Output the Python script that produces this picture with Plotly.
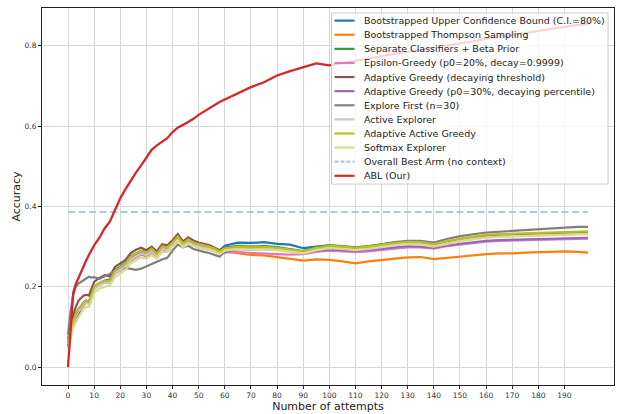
import plotly.graph_objects as go

# ---------------- data ----------------
attempts = [0, 1, 2, 3, 4, 5, 6, 7, 8, 9, 10,
            12, 14, 16, 18, 20, 22, 24, 26, 28, 30, 32, 34, 36, 38, 40,
            42, 44, 46, 48, 50, 52, 54, 56, 58, 60,
            65, 70, 75, 80, 85, 90, 95, 100, 105, 110, 115, 120, 125, 130,
            135, 140, 145, 150, 155, 160, 165, 170, 175, 180, 185, 190, 195, 199]

ucb = [0.05, 0.08, 0.105, 0.12, 0.128, 0.14, 0.155, 0.162, 0.16, 0.178, 0.198,
       0.208, 0.215, 0.218, 0.242, 0.25, 0.26, 0.276, 0.284, 0.29, 0.286, 0.296, 0.283, 0.3, 0.298, 0.31,
       0.324, 0.308, 0.318, 0.31, 0.306, 0.303, 0.3, 0.296, 0.29, 0.302,
       0.31, 0.309, 0.311, 0.307, 0.305, 0.296, 0.3, 0.303, 0.3, 0.297, 0.299, 0.304, 0.307, 0.31,
       0.309, 0.305, 0.312, 0.317, 0.321, 0.324, 0.326, 0.327, 0.329, 0.33, 0.331, 0.332, 0.333, 0.333]

thompson = [0.055, 0.085, 0.11, 0.125, 0.14, 0.145, 0.155, 0.16, 0.158, 0.175, 0.195,
            0.205, 0.21, 0.212, 0.235, 0.243, 0.253, 0.27, 0.278, 0.285, 0.28, 0.29, 0.278, 0.295, 0.293, 0.305,
            0.32, 0.303, 0.312, 0.305, 0.3, 0.297, 0.295, 0.29, 0.284, 0.288,
            0.283, 0.279, 0.278, 0.274, 0.27, 0.265, 0.268, 0.267, 0.263, 0.258, 0.263, 0.267, 0.27, 0.273,
            0.274, 0.269, 0.272, 0.276, 0.279, 0.281, 0.283, 0.283, 0.285, 0.286, 0.288, 0.288, 0.287, 0.285]

separate = [0.055, 0.088, 0.112, 0.128, 0.142, 0.148, 0.158, 0.163, 0.16, 0.178, 0.198,
            0.208, 0.214, 0.216, 0.238, 0.247, 0.257, 0.273, 0.282, 0.289, 0.284, 0.294, 0.281, 0.299, 0.297, 0.309,
            0.324, 0.307, 0.317, 0.309, 0.305, 0.302, 0.299, 0.294, 0.287, 0.297,
            0.302, 0.3, 0.301, 0.299, 0.294, 0.289, 0.298, 0.303, 0.301, 0.298, 0.301, 0.306, 0.31, 0.311,
            0.31, 0.305, 0.312, 0.318, 0.323, 0.327, 0.329, 0.33, 0.332, 0.333, 0.334, 0.335, 0.336, 0.336]

epsilon = [0.06, 0.09, 0.112, 0.128, 0.14, 0.148, 0.158, 0.162, 0.16, 0.176, 0.196,
           0.205, 0.21, 0.21, 0.233, 0.24, 0.25, 0.265, 0.272, 0.28, 0.276, 0.285, 0.274, 0.29, 0.289, 0.3,
           0.315, 0.299, 0.308, 0.302, 0.298, 0.295, 0.293, 0.288, 0.282, 0.285,
           0.287, 0.284, 0.283, 0.282, 0.28, 0.281, 0.287, 0.29, 0.288, 0.286, 0.288, 0.292, 0.295, 0.298,
           0.298, 0.295, 0.301, 0.305, 0.309, 0.312, 0.314, 0.315, 0.316, 0.317, 0.318, 0.319, 0.32, 0.32]

adaptive_thr = [0.07, 0.105, 0.13, 0.15, 0.165, 0.172, 0.178, 0.18, 0.178, 0.195, 0.212,
                0.222, 0.229, 0.226, 0.25, 0.258, 0.267, 0.284, 0.292, 0.297, 0.291, 0.3, 0.288, 0.306, 0.303, 0.316,
                0.331, 0.313, 0.323, 0.315, 0.31, 0.307, 0.304, 0.298, 0.291, 0.297,
                0.3, 0.297, 0.298, 0.296, 0.291, 0.287, 0.296, 0.3, 0.298, 0.295, 0.298, 0.303, 0.307, 0.31,
                0.309, 0.304, 0.311, 0.317, 0.321, 0.325, 0.327, 0.328, 0.33, 0.331, 0.332, 0.333, 0.334, 0.334]

adaptive_pct = [0.062, 0.094, 0.117, 0.132, 0.145, 0.152, 0.162, 0.166, 0.164, 0.18, 0.2,
                0.209, 0.214, 0.214, 0.237, 0.245, 0.255, 0.27, 0.278, 0.285, 0.281, 0.29, 0.279, 0.296, 0.294, 0.305,
                0.32, 0.304, 0.313, 0.306, 0.302, 0.299, 0.297, 0.292, 0.286, 0.293,
                0.297, 0.295, 0.295, 0.293, 0.288, 0.284, 0.29, 0.293, 0.291, 0.289, 0.291, 0.295, 0.298, 0.301,
                0.3, 0.297, 0.303, 0.307, 0.311, 0.314, 0.316, 0.317, 0.318, 0.319, 0.32, 0.321, 0.322, 0.322]

explore_first = [0.08, 0.14, 0.18, 0.2, 0.208, 0.212, 0.218, 0.222, 0.225, 0.223, 0.224,
                 0.22, 0.225, 0.232, 0.24, 0.245, 0.247, 0.244, 0.242, 0.245, 0.25, 0.255, 0.262, 0.268, 0.272, 0.29,
                 0.305, 0.298, 0.302, 0.294, 0.29, 0.287, 0.284, 0.28, 0.275, 0.287,
                 0.294, 0.293, 0.294, 0.293, 0.289, 0.286, 0.294, 0.299, 0.298, 0.296, 0.3, 0.306, 0.311, 0.314,
                 0.314, 0.31, 0.319, 0.326, 0.33, 0.335, 0.337, 0.339, 0.342, 0.343, 0.345, 0.347, 0.349, 0.349]

active_explorer = [0.058, 0.088, 0.11, 0.126, 0.14, 0.146, 0.156, 0.161, 0.158, 0.175, 0.194,
                   0.204, 0.21, 0.211, 0.234, 0.242, 0.252, 0.268, 0.276, 0.283, 0.279, 0.288, 0.277, 0.294, 0.292, 0.304,
                   0.318, 0.302, 0.311, 0.304, 0.3, 0.297, 0.295, 0.29, 0.284, 0.292,
                   0.296, 0.294, 0.295, 0.293, 0.289, 0.285, 0.293, 0.298, 0.296, 0.293, 0.296, 0.301, 0.305, 0.308,
                   0.307, 0.302, 0.309, 0.315, 0.319, 0.323, 0.325, 0.326, 0.328, 0.329, 0.33, 0.331, 0.332, 0.332]

adaptive_active = [0.06, 0.09, 0.115, 0.13, 0.145, 0.15, 0.16, 0.165, 0.162, 0.18, 0.2,
                   0.21, 0.215, 0.215, 0.24, 0.248, 0.258, 0.275, 0.283, 0.29, 0.285, 0.295, 0.282, 0.3, 0.298, 0.31,
                   0.325, 0.308, 0.318, 0.31, 0.306, 0.303, 0.3, 0.295, 0.288, 0.296,
                   0.3, 0.298, 0.299, 0.297, 0.292, 0.288, 0.297, 0.302, 0.3, 0.297, 0.3, 0.305, 0.309, 0.312,
                   0.311, 0.306, 0.314, 0.32, 0.325, 0.329, 0.331, 0.332, 0.334, 0.335, 0.336, 0.337, 0.338, 0.338]

softmax = [0.045, 0.075, 0.098, 0.112, 0.125, 0.135, 0.145, 0.15, 0.15, 0.165, 0.185,
           0.195, 0.2, 0.203, 0.225, 0.232, 0.243, 0.258, 0.266, 0.273, 0.27, 0.279, 0.27, 0.287, 0.286, 0.298,
           0.314, 0.298, 0.307, 0.301, 0.297, 0.294, 0.292, 0.287, 0.281, 0.29,
           0.294, 0.292, 0.293, 0.291, 0.287, 0.283, 0.291, 0.296, 0.294, 0.291, 0.294, 0.299, 0.303, 0.306,
           0.305, 0.3, 0.307, 0.313, 0.318, 0.322, 0.324, 0.325, 0.327, 0.328, 0.329, 0.33, 0.331, 0.331]

abl = [0.0, 0.1, 0.185, 0.207, 0.222, 0.238, 0.254, 0.266, 0.279, 0.292, 0.303,
       0.322, 0.345, 0.362, 0.39, 0.42, 0.443, 0.465, 0.484, 0.502, 0.522, 0.541, 0.552, 0.561, 0.57, 0.585,
       0.596, 0.603, 0.61, 0.618, 0.628, 0.636, 0.645, 0.653, 0.66, 0.666,
       0.681, 0.697, 0.709, 0.726, 0.737, 0.747, 0.756, 0.751, 0.757, 0.763, 0.769, 0.774, 0.78, 0.785,
       0.79, 0.795, 0.8, 0.806, 0.811, 0.817, 0.822, 0.828, 0.833, 0.838, 0.843, 0.848, 0.852, 0.854]

best_arm_x = [0, 199]
best_arm_value = 0.386

x_ticks = list(range(0, 200, 10))
y_ticks = [0.0, 0.2, 0.4, 0.6, 0.8]

series = [
    ("Bootstrapped Upper Confidence Bound (C.I.=80%)", ucb, "#1f77b4"),
    ("Bootstrapped Thompson Sampling", thompson, "#ff7f0e"),
    ("Separate Classifiers + Beta Prior", separate, "#2ca02c"),
    ("Epsilon-Greedy (p0=20%, decay=0.9999)", epsilon, "#e377c2"),
    ("Adaptive Greedy (decaying threshold)", adaptive_thr, "#8c564b"),
    ("Adaptive Greedy (p0=30%, decaying percentile)", adaptive_pct, "#9467bd"),
    ("Explore First (n=30)", explore_first, "#7f7f7f"),
    ("Active Explorer", active_explorer, "#c7c7c7"),
    ("Adaptive Active Greedy", adaptive_active, "#bcbd22"),
    ("Softmax Explorer", softmax, "#dbdb8d"),
]

FONT = "DejaVu Sans"

fig = go.Figure()
for name, vals, col in series:
    fig.add_trace(go.Scatter(x=attempts, y=vals, mode="lines", name=name,
                             line=dict(color=col, width=2.2), showlegend=False))
fig.add_trace(go.Scatter(x=best_arm_x, y=[best_arm_value] * len(best_arm_x), mode="lines",
                         name="Overall Best Arm (no context)",
                         line=dict(color="#aec7e8", width=2, dash="7px,3.5px"), showlegend=False))
fig.add_trace(go.Scatter(x=attempts, y=abl, mode="lines", name="ABL (Our)",
                         line=dict(color="#d62728", width=2.3), showlegend=False))

# ---------------- manual legend (matplotlib-like compact layout) ----------------
L, R, T, B = 42, 4, 8, 27
W, H = 619, 414
pw, ph = W - L - R, H - T - B


def px2x(px):
    return (px - L) / pw


def py2y(py):
    return (H - B - py) / ph


legend_items = [(n, c, "solid") for n, _, c in series] + [
    ("Overall Best Arm (no context)", "#aec7e8", "dash"),
    ("ABL (Our)", "#d62728", "solid"),
]

shapes = [dict(type="rect", xref="paper", yref="paper",
               x0=px2x(332), x1=px2x(609), y0=py2y(185), y1=py2y(13),
               fillcolor="rgba(255,255,255,0.8)", line=dict(color="#cccccc", width=1),
               layer="above")]
annotations = []
for i, (name, col, dash) in enumerate(legend_items):
    cy = 20.7 + i * 14.18
    shapes.append(dict(type="line", xref="paper", yref="paper",
                       x0=px2x(335), x1=px2x(355), y0=py2y(cy), y1=py2y(cy),
                       line=dict(color=col, width=2.2, dash=("4px,2px" if dash == "dash" else "solid")),
                       layer="above"))
    annotations.append(dict(xref="paper", yref="paper", x=px2x(363), y=py2y(cy),
                            text=name, showarrow=False, xanchor="left", yanchor="middle",
                            font=dict(family=FONT, size=9.5, color="#222")))

fig.update_layout(
    width=W, height=H,
    margin=dict(l=L, r=R, t=T, b=B),
    plot_bgcolor="white", paper_bgcolor="white",
    font=dict(family=FONT, color="#333"),
    shapes=shapes, annotations=annotations,
    showlegend=False,
)
fig.update_xaxes(range=[-9.95, 208.95], tickvals=x_ticks, ticktext=[str(t) for t in x_ticks],
                 showgrid=True, gridcolor="#d8d8d8", gridwidth=0.8, zeroline=False,
                 showline=True, linecolor="#222", linewidth=1, mirror=True,
                 ticks="outside", ticklen=3, tickcolor="#222",
                 tickfont=dict(family=FONT, size=7.5, color="#333"),
                 title=dict(text="Number of attempts", font=dict(family=FONT, size=11, color="#222"), standoff=2))
fig.update_yaxes(range=[-0.0446, 0.894], tickvals=y_ticks, ticktext=[f"{v:.1f}" for v in y_ticks],
                 showgrid=True, gridcolor="#d8d8d8", gridwidth=0.8, zeroline=False,
                 showline=True, linecolor="#222", linewidth=1, mirror=True,
                 ticks="outside", ticklen=3, tickcolor="#222",
                 tickfont=dict(family=FONT, size=7.5, color="#333"),
                 title=dict(text="Accuracy", font=dict(family=FONT, size=11, color="#222"), standoff=1))

fig.write_html("out.html")
